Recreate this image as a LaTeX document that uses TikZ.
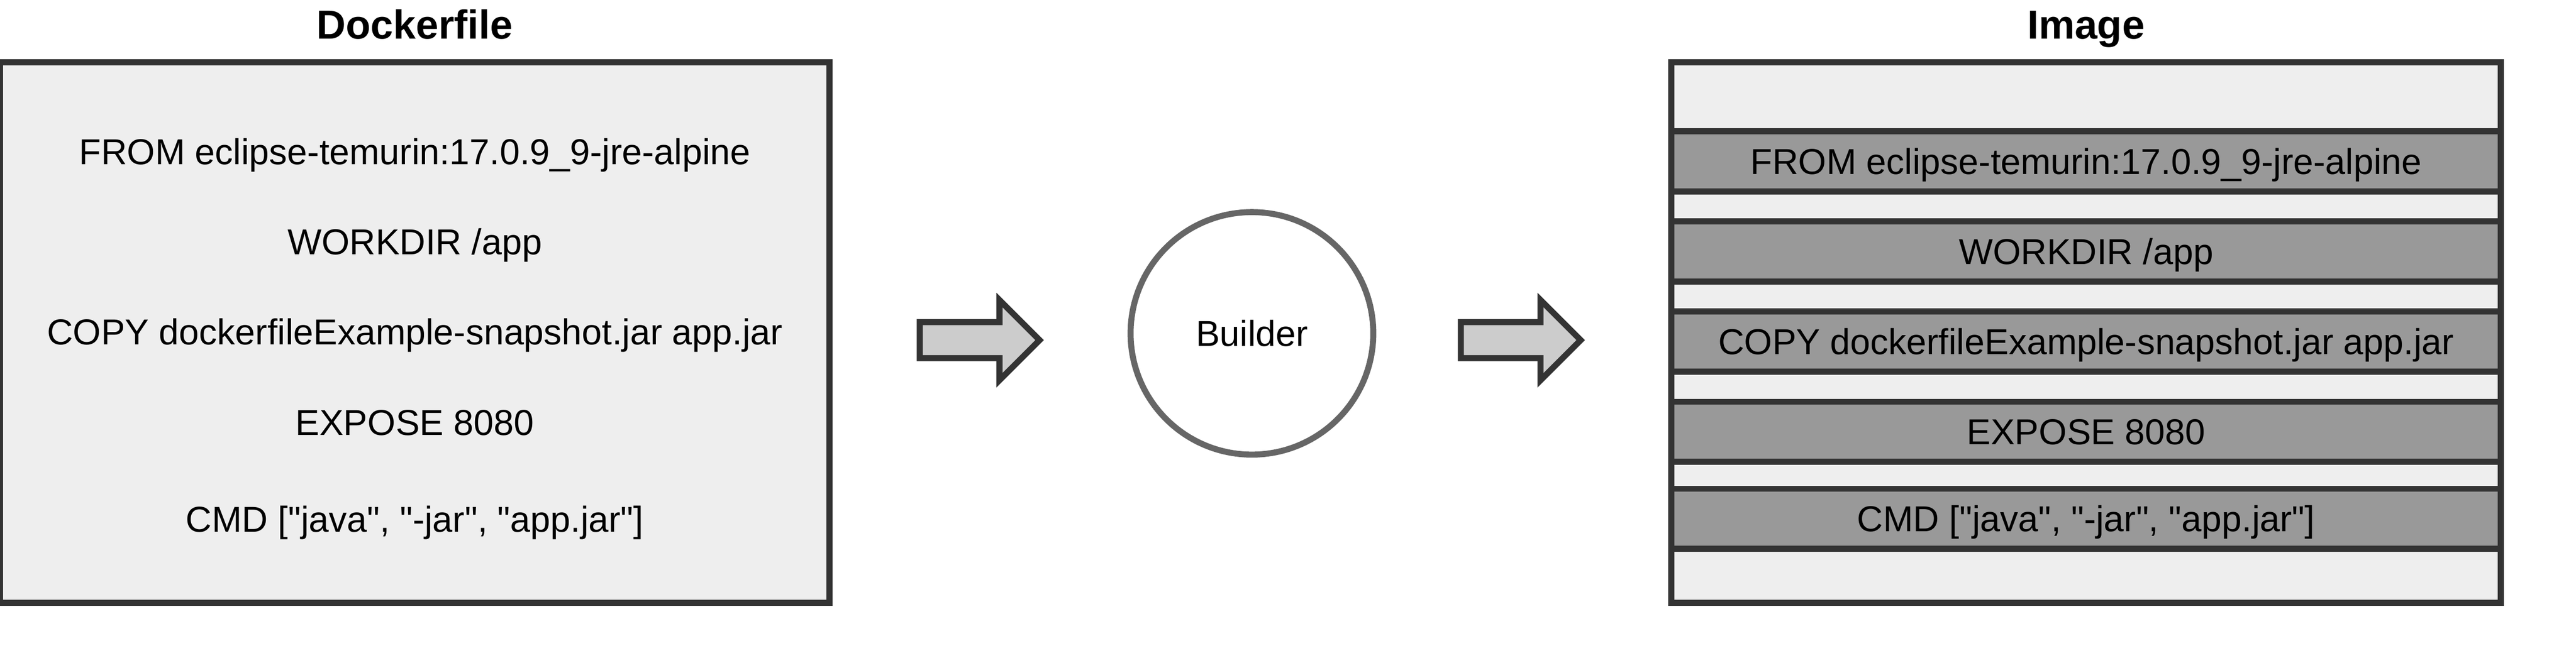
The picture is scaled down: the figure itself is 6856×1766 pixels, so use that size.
\documentclass[tikz,border=0pt]{standalone}
\usepackage{fontspec}
\newfontfamily\drawfont{Liberation Sans}
\usetikzlibrary{positioning,shapes.arrows}

\definecolor{edge}{HTML}{333333}
\definecolor{paper}{HTML}{EEEEEE}
\definecolor{layerfill}{HTML}{999999}
\definecolor{arrowfill}{HTML}{CCCCCC}
\definecolor{ring}{HTML}{666666}

\tikzset{
  txt/.style={font=\drawfont\fontsize{9.6}{11}\selectfont, text height=6.85pt, text depth=0pt, inner sep=0pt},
  title/.style={font=\drawfont\fontsize{10.8}{13}\selectfont\bfseries, text height=7.73pt, text depth=0pt, inner sep=0pt},
  panel/.style={draw=edge, fill=paper, line width=1.6pt, minimum width=220.8pt, minimum height=144pt, inner sep=0pt},
  layer/.style={txt, draw=edge, fill=layerfill, line width=1.6pt, minimum width=220.8pt, minimum height=16pt},
  bigarrow/.style={single arrow, draw=edge, fill=arrowfill, line width=1.6pt, minimum height=31.9pt, minimum width=19.8pt,
    single arrow head extend=5.9pt, inner xsep=0pt, inner ysep=4pt, outer sep=0pt, anchor=tail},
}

\begin{document}
\begin{tikzpicture}[x=0.1pt, y=-0.1pt]
\useasboundingbox (0,0) rectangle (6856,1766);

% dockerfile
\node[panel] (dockerfile) at (1104,886) {};
\node[title, above=5.2pt of dockerfile] (dftitle) {Dockerfile};
\foreach \y/\instr [count=\i] in {404/{FROM eclipse-temurin:17.0.9\_9-jre-alpine}, 644/{WORKDIR /app},
    884/{COPY dockerfileExample-snapshot.jar app.jar}, 1125/{EXPOSE 8080}, 1383/{CMD ["java", "-jar", "app.jar"]}}
  \node[txt] (dfline\i) at (1104,\y) {\instr};

% builder
\node[bigarrow] (arrow1) at (2448,906) {};
\node[txt, circle, draw=ring, line width=1.6pt, minimum size=64.6pt] (builder) at (3332,888) {Builder};
\node[bigarrow] (arrow2) at (3888,906) {};

% image
\node[panel] (image) at (5552,886) {};
\node[title, above=5.2pt of image] (imgtitle) {Image};
\foreach \y/\instr [count=\i] in {430/{FROM eclipse-temurin:17.0.9\_9-jre-alpine}, 670/{WORKDIR /app},
    910/{COPY dockerfileExample-snapshot.jar app.jar}, 1150/{EXPOSE 8080}, 1382/{CMD ["java", "-jar", "app.jar"]}}
  \node[layer] (layer\i) at (5552,\y) {\instr};
\end{tikzpicture}
\end{document}
